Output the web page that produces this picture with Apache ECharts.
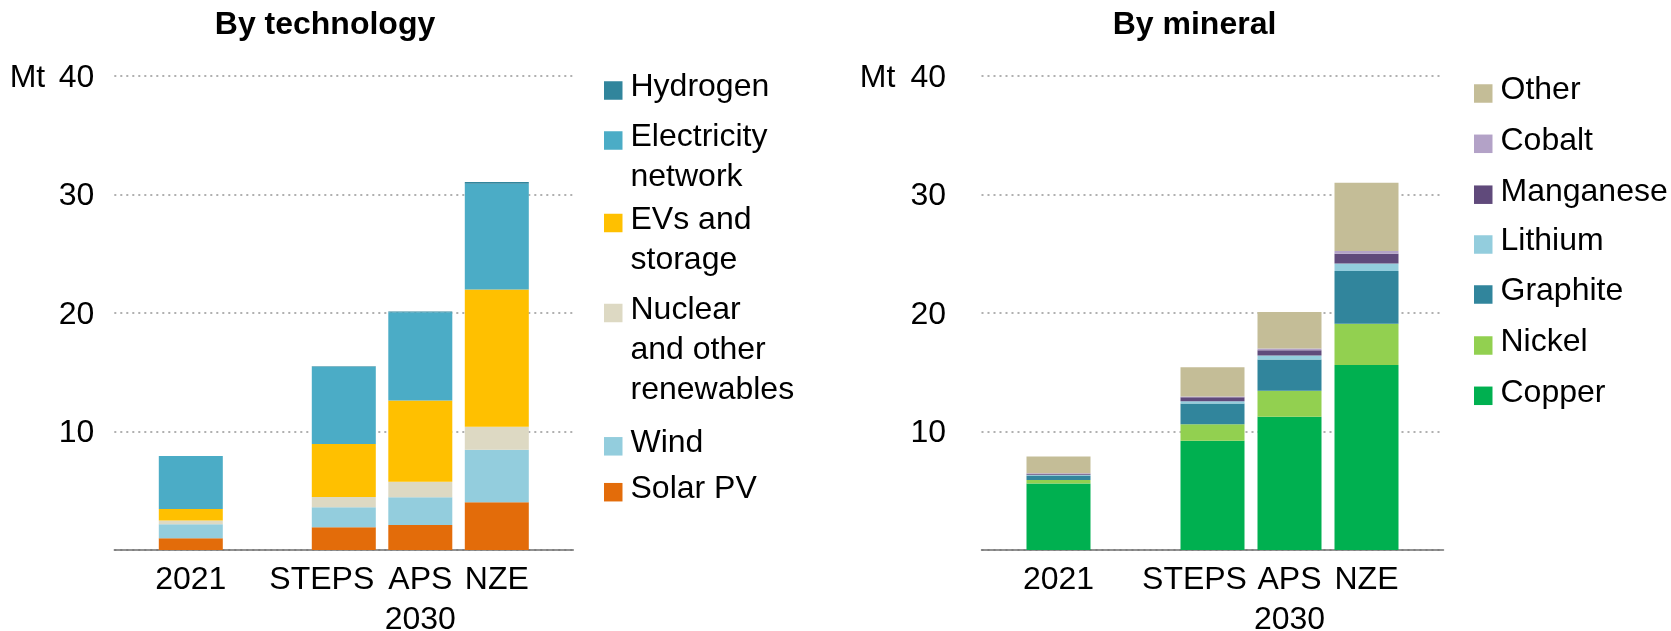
<!DOCTYPE html>
<html>
<head>
<meta charset="utf-8">
<script src="https://cdn.jsdelivr.net/npm/echarts@6/dist/echarts.min.js"></script>
<style>
  html, body { margin: 0; padding: 0; background: #fff; }
  #chart { width: 1671px; height: 631px; }
</style>
</head>
<body>
<div id="chart"></div>
<script>
// categories on the x axis (2030 scenarios share a group label)
const categories = ['2021', 'STEPS', 'APS', 'NZE'];
const groupLabel = '2030';
const yTicks = [0, 10, 20, 30, 40];

// By technology, Mt (bottom to top)
const solarPV      = [1.00, 1.92, 2.12, 4.03];
const wind         = [1.18, 1.69, 2.33, 4.44];
const nuclearOther = [0.31, 0.87, 1.32, 1.94];
const evsStorage   = [0.98, 4.47, 6.85, 11.58];
const electricity  = [4.47, 6.52, 7.45, 8.91];
const hydrogen     = [0.00, 0.03, 0.05, 0.15];

// By mineral, Mt (bottom to top)
const copper    = [5.62, 9.22, 11.24, 15.62];
const nickel    = [0.28, 1.40, 2.19, 3.48];
const graphite  = [0.39, 1.74, 2.64, 4.45];
const lithium   = [0.05, 0.20, 0.34, 0.62];
const manganese = [0.10, 0.34, 0.45, 0.84];
const cobalt    = [0.04, 0.05, 0.14, 0.23];
const other     = [1.41, 2.48, 3.09, 5.76];

const FONT = '"Liberation Sans", Arial, Helvetica, sans-serif';

const techSeries = [
  { name: 'Solar PV', data: solarPV, color: '#E36C0A' },
  { name: 'Wind', data: wind, color: '#93CDDD' },
  { name: 'Nuclear and other renewables', data: nuclearOther, color: '#DDD9C3' },
  { name: 'EVs and storage', data: evsStorage, color: '#FFC000' },
  { name: 'Electricity network', data: electricity, color: '#4BACC6' },
  { name: 'Hydrogen', data: hydrogen, color: '#31859C' }
];
const mineralSeries = [
  { name: 'Copper', data: copper, color: '#00B050' },
  { name: 'Nickel', data: nickel, color: '#92D050' },
  { name: 'Graphite', data: graphite, color: '#31859C' },
  { name: 'Lithium', data: lithium, color: '#93CDDD' },
  { name: 'Manganese', data: manganese, color: '#604A7B' },
  { name: 'Cobalt', data: cobalt, color: '#B3A2C7' },
  { name: 'Other', data: other, color: '#C4BD97' }
];

const legendWrap = {
  'Electricity network': ['Electricity', 'network'],
  'EVs and storage': ['EVs and', 'storage'],
  'Nuclear and other renewables': ['Nuclear', 'and other', 'renewables']
};
const LINE = 40;

// legend text: first line sits level with the swatch, a little above its centre
function legendText(name) {
  const lines = legendWrap[name] || [name];
  const pre = LINE * lines.length - 46;
  let s = lines.map(function (l) { return '{t|' + l + '}'; }).join('\n');
  if (pre > 0) s = '{p' + pre + '|\u00a0}\n' + s;
  else s = s + '\n{p' + (-pre) + '|\u00a0}';
  return s;
}
function legendTopOffset(name) {
  const n = (legendWrap[name] || [name]).length;
  return Math.abs(LINE * n - 46) / 2 + (LINE * n) / 2 - 3;
}

// axis slots: empty gap between 2021 and the 2030 scenarios, plus a blank at each end
const slots = ['', categories[0], '', categories[1], categories[2], categories[3], ''];
function pad(v) { return ['-', v[0], '-', v[1], v[2], v[3], '-']; }

const panels = [
  {
    title: 'By technology', titleX: 325,
    gridLeft: 114.3, gridWidth: 459, labelMargin: 20, mtGap: 13.5, stepsShift: 44,
    series: techSeries, stack: 'tech',
    legendLeft: 604,
    legendOrder: ['Hydrogen', 'Electricity network', 'EVs and storage', 'Nuclear and other renewables', 'Wind', 'Solar PV'],
    legendY: [87.5, 137.5, 220, 310, 443.3, 489.2]
  },
  {
    title: 'By mineral', titleX: 1194.5,
    gridLeft: 981.5, gridWidth: 462, labelMargin: 35.5, mtGap: 15, stepsShift: 36,
    series: mineralSeries, stack: 'mineral',
    legendLeft: 1474,
    legendOrder: ['Other', 'Cobalt', 'Manganese', 'Lithium', 'Graphite', 'Nickel', 'Copper'],
    legendY: [90.5, 140.8, 191.7, 241.5, 291.5, 342.5, 392.8]
  }
];

const legendRich = {
  t: { fontFamily: FONT, fontSize: 32, lineHeight: LINE, color: '#000', padding: [0, 0, 0, 3] },
  p6: { fontSize: 1, lineHeight: 6 },
  p34: { fontSize: 1, lineHeight: 34 },
  p74: { fontSize: 1, lineHeight: 74 }
};

const option = {
  animation: false,
  backgroundColor: '#fff',
  textStyle: { fontFamily: FONT, color: '#000' },
  title: [], grid: [], xAxis: [], yAxis: [], series: [], legend: []
};

panels.forEach(function (p, i) {
  option.title.push({
    text: p.title, left: p.titleX, top: 9, textAlign: 'center', padding: 0,
    textStyle: { fontFamily: FONT, fontSize: 32, fontWeight: 'bold', color: '#000' }
  });
  option.grid.push({
    left: p.gridLeft, width: p.gridWidth, top: 76, height: 474,
    containLabel: false, outerBoundsMode: 'none'
  });
  option.xAxis.push({
    type: 'category', gridIndex: i, data: slots, boundaryGap: false,
    axisLine: { lineStyle: { color: '#6f6f6f', width: 1.5 } },
    axisTick: { show: false },
    axisLabel: {
      interval: 0, margin: 10.5, color: '#000', fontFamily: FONT, fontSize: 32, lineHeight: 40,
      formatter: function (v) {
        if (v === categories[1]) return '{s|' + v + '}';
        if (v === categories[2]) return v + '\n' + groupLabel;
        return v;
      },
      rich: {
        s: { fontFamily: FONT, fontSize: 32, lineHeight: 40, color: '#000', padding: [0, p.stepsShift, 0, 0] }
      }
    },
    splitLine: { show: false }
  });
  option.yAxis.push({
    type: 'value', gridIndex: i, min: yTicks[0], max: yTicks[yTicks.length - 1], interval: 10,
    axisLine: { show: false }, axisTick: { show: false },
    axisLabel: {
      margin: p.labelMargin, color: '#000', fontFamily: FONT, fontSize: 32, padding: [4, 0, 0, 0],
      formatter: function (v) {
        if (v === 0) return '';
        if (v === yTicks[yTicks.length - 1]) return '{mt|Mt}{n|' + v + '}';
        return String(v);
      },
      rich: {
        mt: { fontFamily: FONT, fontSize: 32, color: '#000', padding: [0, p.mtGap, 0, 0] },
        n: { fontFamily: FONT, fontSize: 32, color: '#000' }
      }
    },
    splitLine: { lineStyle: { color: '#b0b0b0', width: 2, type: [2, 4] } }
  });
  p.series.forEach(function (s) {
    option.series.push({
      name: s.name, type: 'bar', stack: p.stack, xAxisIndex: i, yAxisIndex: i,
      barWidth: 64, data: pad(s.data),
      itemStyle: { color: s.color }
    });
  });
  p.legendOrder.forEach(function (name, k) {
    option.legend.push({
      data: [name], left: p.legendLeft, top: p.legendY[k] - legendTopOffset(name), padding: 0,
      icon: 'rect', itemWidth: 18.5, itemHeight: 18.5, selectedMode: false,
      formatter: legendText,
      textStyle: { fontFamily: FONT, fontSize: 32, lineHeight: LINE, color: '#000', rich: legendRich }
    });
  });
});

const chart = echarts.init(document.getElementById('chart'), null, { renderer: 'canvas' });
chart.setOption(option);
</script>
</body>
</html>
